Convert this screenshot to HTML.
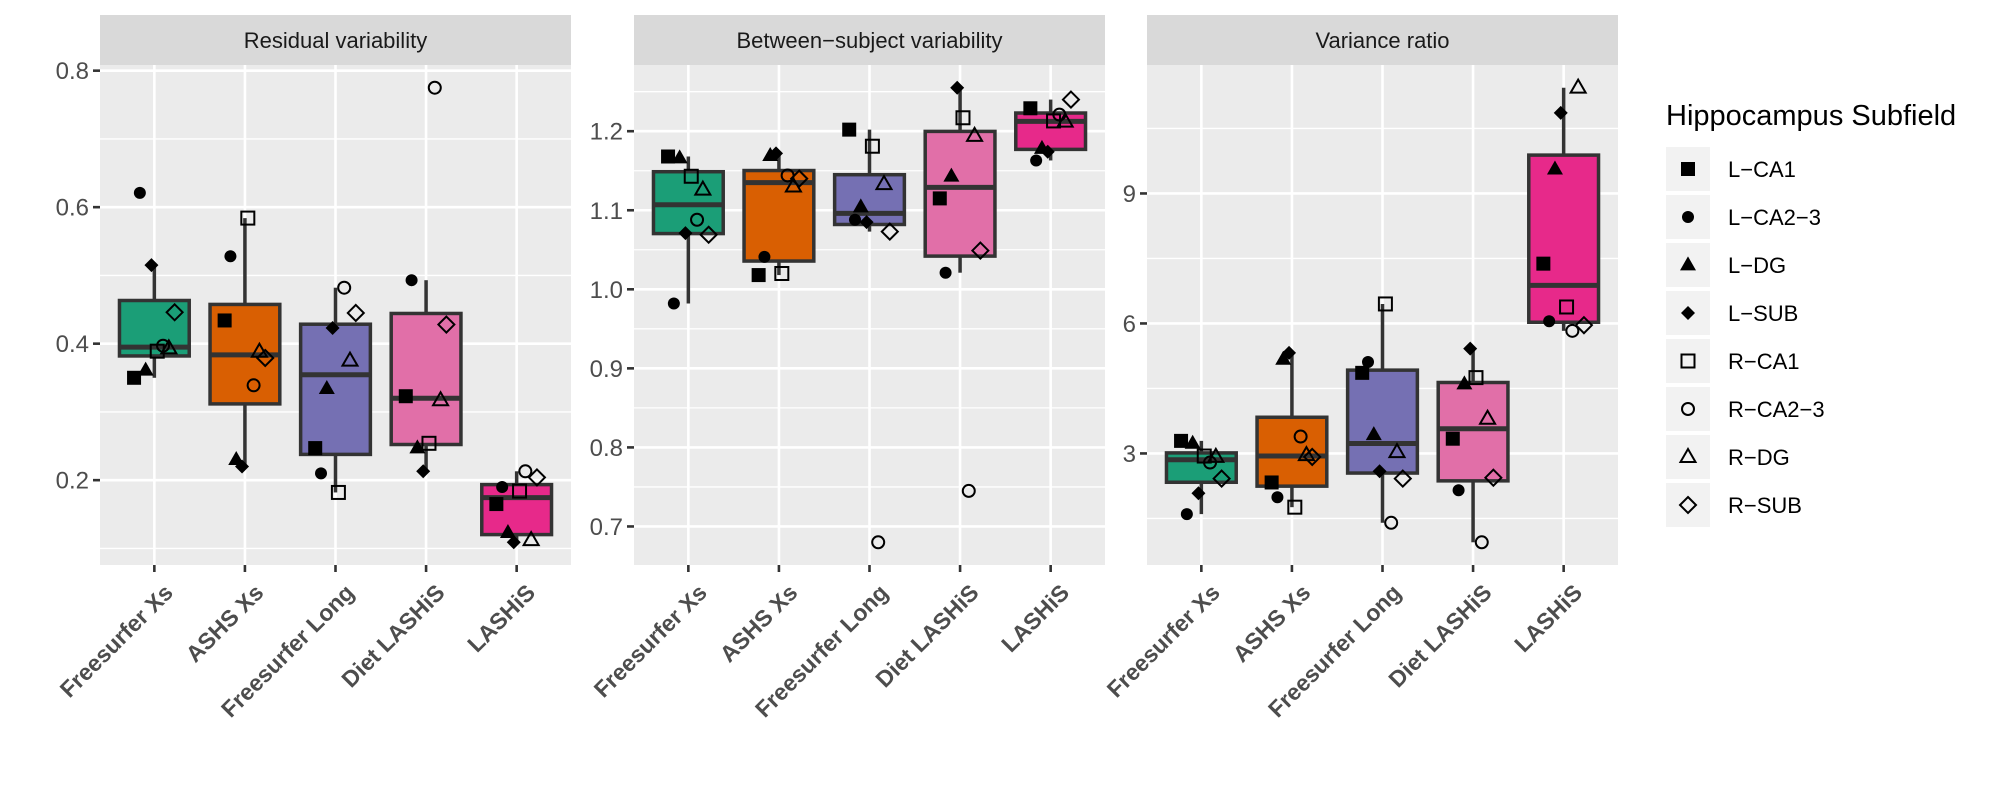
<!DOCTYPE html>
<html><head><meta charset="utf-8">
<style>
html,body{margin:0;padding:0;background:#fff;}
svg{display:block;font-family:"Liberation Sans",Arial,sans-serif;}
</style></head>
<body>
<svg id="chart" width="2000" height="800" viewBox="0 0 2000 800" xmlns="http://www.w3.org/2000/svg"></svg>
<script>
// ---- data ----
const categories = ["Freesurfer Xs","ASHS Xs","Freesurfer Long","Diet LASHiS","LASHiS"];
const subfields = ["L-CA1","L-CA2-3","L-DG","L-SUB","R-CA1","R-CA2-3","R-DG","R-SUB"];
const panelTitles = ["Residual variability","Between\u2212subject variability","Variance ratio"];
// values[category][subfield]
const residualValues = [
  [0.350,0.621,0.361,0.515,0.389,0.397,0.393,0.446],
  [0.434,0.528,0.230,0.220,0.584,0.339,0.388,0.379],
  [0.247,0.210,0.334,0.423,0.182,0.482,0.375,0.445],
  [0.323,0.493,0.247,0.213,0.254,0.775,0.317,0.428],
  [0.165,0.190,0.123,0.109,0.184,0.213,0.112,0.204]
];
const betweenValues = [
  [1.168,0.982,1.166,1.071,1.143,1.088,1.126,1.069],
  [1.018,1.041,1.169,1.172,1.020,1.144,1.130,1.140],
  [1.202,1.088,1.104,1.085,1.181,0.680,1.133,1.073],
  [1.115,1.021,1.143,1.255,1.217,0.745,1.194,1.049],
  [1.229,1.163,1.178,1.174,1.213,1.221,1.212,1.240]
];
const ratioValues = [
  [3.29,1.60,3.23,2.08,2.94,2.79,2.92,2.42],
  [2.33,1.99,5.17,5.32,1.76,3.39,2.96,2.92],
  [4.86,5.11,3.43,2.59,6.45,1.40,3.03,2.42],
  [3.34,2.15,4.60,5.42,4.75,0.95,3.80,2.44],
  [7.38,6.05,9.56,10.86,6.38,5.83,11.44,5.96]
];
const residualTicks = [0.2,0.4,0.6,0.8];
const residualTickLabels = ["0.2","0.4","0.6","0.8"];
const betweenTicks = [0.7,0.8,0.9,1.0,1.1,1.2];
const betweenTickLabels = ["0.7","0.8","0.9","1.0","1.1","1.2"];
const ratioTicks = [3,6,9];
const ratioTickLabels = ["3","6","9"];

// ---- styling ----
const fills = ["#1B9E77","#D95F02","#7570B3","#E16FA8","#E7298A"];
const panels = [
  {left:100, values:residualValues, ticks:residualTicks, labels:residualTickLabels},
  {left:634, values:betweenValues, ticks:betweenTicks, labels:betweenTickLabels},
  {left:1147, values:ratioValues, ticks:ratioTicks, labels:ratioTickLabels}
];
const PW=471, TOP=65, BOT=565, STRIP_TOP=15;
const NS="http://www.w3.org/2000/svg";
const svg=document.getElementById('chart');
function mk(tag,attrs,parent){const e=document.createElementNS(NS,tag);for(const k in attrs)e.setAttribute(k,attrs[k]);(parent||svg).appendChild(e);return e;}
function quant(s,p){const pos=(s.length-1)*p;const lo=Math.floor(pos),hi=Math.ceil(pos);return s[lo]+(s[hi]-s[lo])*(pos-lo);}

function drawShape(g,idx,cx,cy){
  let e;
  const filled = idx<4;
  const st = filled ? {fill:"#000",stroke:"none"} : {fill:"none",stroke:"#000","stroke-width":2};
  const k = idx%4;
  if(k===0){e=mk('rect',Object.assign({x:cx-(filled?7:6.5),y:cy-(filled?7:6.5),width:filled?14:13,height:filled?14:13},st),g);}
  else if(k===1){e=mk('circle',Object.assign({cx:cx,cy:cy,r:6},st),g);}
  else if(k===2){const h=filled?14:13,w=filled?16:15;e=mk('polygon',Object.assign({points:`${cx},${cy-h*0.62} ${cx+w/2},${cy+h*0.38} ${cx-w/2},${cy+h*0.38}`},st),g);}
  else {const r=filled?7:8;e=mk('polygon',Object.assign({points:`${cx},${cy-r} ${cx+r},${cy} ${cx},${cy+r} ${cx-r},${cy}`},st),g);}
  return e;
}

panels.forEach((p,pi)=>{
  const all=[].concat(...p.values);
  const mn=Math.min(...all),mx=Math.max(...all),pad=(mx-mn)*0.05;
  const d0=mn-pad,d1=mx+pad;
  const y=v=>BOT-(v-d0)/(d1-d0)*(BOT-TOP);
  const unit=PW/(categories.length+0.2);
  const x=i=>p.left+(i+0.6)*unit;
  const g=mk('g',{});
  
  
  const bg=mk('rect',{x:p.left,y:TOP,width:PW,height:BOT-TOP,fill:"#EBEBEB"},g);
  
  
  const strip=mk('rect',{x:p.left,y:STRIP_TOP,width:PW,height:TOP-STRIP_TOP,fill:"#D9D9D9"},g);
  
  
  const st=mk('text',{x:p.left+PW/2,y:48,'text-anchor':'middle','font-size':22,fill:'#1a1a1a'},g);
  st.textContent=panelTitles[pi];
  
  
  for(let i=0;i<p.ticks.length+1;i++){
    const step=p.ticks[1]-p.ticks[0];
    const v=p.ticks[0]-step/2+i*step;
    if(v>d0&&v<d1){const l=mk('line',{x1:p.left,x2:p.left+PW,y1:y(v),y2:y(v),stroke:'#fff','stroke-width':1.3},g);
      
      }
  }
  p.ticks.forEach((v,ti)=>{
    if(v<d0||v>d1)return;
    const l=mk('line',{x1:p.left,x2:p.left+PW,y1:y(v),y2:y(v),stroke:'#fff','stroke-width':2.6},g);
    
    
    const tk=mk('line',{x1:p.left-7,x2:p.left,y1:y(v),y2:y(v),stroke:'#333','stroke-width':2.6},g);
    
    
    const t=mk('text',{x:p.left-11,y:y(v)+8.5,'text-anchor':'end','font-size':24,fill:'#4d4d4d'},g);
    t.textContent=p.labels[ti];
    
    
  });
  categories.forEach((c,ci)=>{
    const l=mk('line',{x1:x(ci),x2:x(ci),y1:TOP,y2:BOT,stroke:'#fff','stroke-width':2.6},g);
    
    
    const tk=mk('line',{x1:x(ci),x2:x(ci),y1:BOT,y2:BOT+7,stroke:'#333','stroke-width':2.6},g);
    
    
    const tx=x(ci)+20, ty=594;
    const t=mk('text',{x:tx,y:ty,'text-anchor':'end','font-size':23,'font-weight':'bold',fill:'#4d4d4d',transform:`rotate(-45 ${tx} ${ty})`},g);
    t.textContent=c;
    
    
  });
  p.values.forEach((vals,ci)=>{
    const s=vals.slice().sort((a,b)=>a-b);
    const q1=quant(s,0.25),q3=quant(s,0.75),md=quant(s,0.5),iqr=q3-q1;
    const lo=Math.min(...s.filter(v=>v>=q1-1.5*iqr)),hi=Math.max(...s.filter(v=>v<=q3+1.5*iqr));
    const bw=unit*0.77, cx=x(ci);
    const bg2=mk('g',{},g);
    
    
    mk('line',{x1:cx,x2:cx,y1:y(hi),y2:y(q3),stroke:'#333','stroke-width':3.5},bg2);
    mk('line',{x1:cx,x2:cx,y1:y(q1),y2:y(lo),stroke:'#333','stroke-width':3.5},bg2);
    mk('rect',{x:cx-bw/2,y:y(q3),width:bw,height:y(q1)-y(q3),fill:fills[ci],stroke:'#333','stroke-width':3.5},bg2);
    mk('line',{x1:cx-bw/2,x2:cx+bw/2,y1:y(md),y2:y(md),stroke:'#333','stroke-width':5},bg2);
  });
  p.values.forEach((vals,ci)=>{
    vals.forEach((v,si)=>{
      const px=x(ci)+(si-3.5)*0.064*unit;
      const e=drawShape(g,si,px,y(v));
      
      
    });
  });
});

// legend
const lg=mk('g',{});


const lt=mk('text',{x:1666,y:125,'font-size':29,fill:'#000'},lg);
lt.textContent="Hippocampus Subfield";


subfields.forEach((s,i)=>{
  const ky=147+i*48;
  const ent=mk('g',{},lg);
  
  
  mk('rect',{x:1666,y:ky,width:44,height:44,fill:'#F2F2F2'},ent);
  drawShape(ent,i,1688,ky+22);
  const t=mk('text',{x:1728,y:ky+30,'font-size':22,fill:'#000'},ent);
  t.textContent=s.replace(/-/g,'\u2212');
});
</script>
</body></html>
